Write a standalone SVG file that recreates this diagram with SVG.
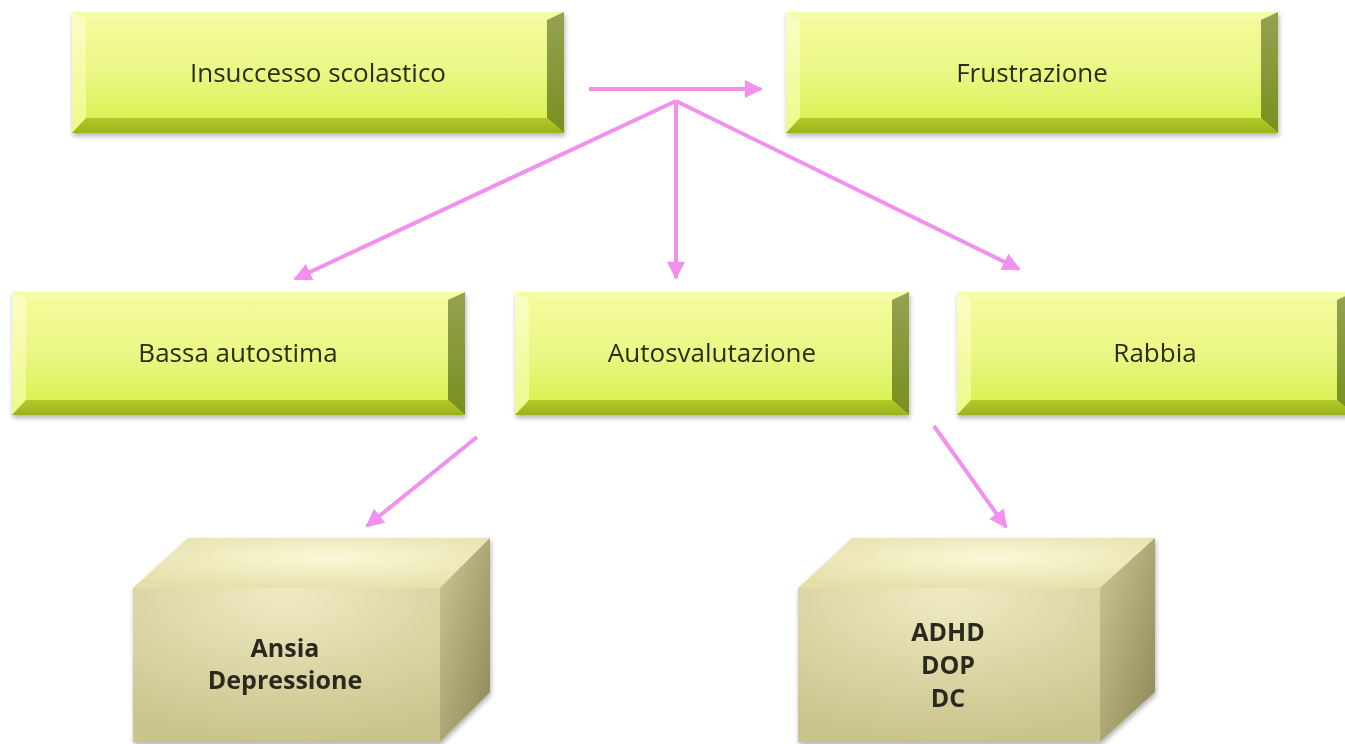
<svg xmlns="http://www.w3.org/2000/svg" width="1345" height="744" viewBox="0 0 1345 744">
<style>
.lbl{font-family:"Open Sans","Noto Sans","Liberation Sans",sans-serif;font-size:26px;fill:#2a2d14;text-anchor:middle}
.blbl{font-family:"Open Sans","Noto Sans","Liberation Sans",sans-serif;font-size:25px;font-weight:bold;fill:#2a2a1e;text-anchor:middle}
.face{fill:url(#gFace)}
.tb{fill:#f5fba6}
.lb{fill:url(#gLeft)}
.rb{fill:url(#gRight)}
.bb{fill:url(#gBot)}
.conn{stroke:#f290ef;stroke-width:4;fill:none}
.front{fill:url(#gFront)}
.top{fill:url(#gTop)}
.side{fill:url(#gSide)}
</style>
<defs>
<linearGradient id="gFace" x1="0" y1="0" x2="0" y2="1"><stop offset="0" stop-color="#f5fb9e"/><stop offset="0.5" stop-color="#eaf784"/><stop offset="1" stop-color="#d6ef48"/></linearGradient>
<linearGradient id="gLeft" x1="0" y1="0" x2="0" y2="1"><stop offset="0" stop-color="#fbfdc4"/><stop offset="1" stop-color="#eef98a"/></linearGradient>
<linearGradient id="gRight" x1="0" y1="0" x2="0" y2="1"><stop offset="0" stop-color="#97a152"/><stop offset="1" stop-color="#76901f"/></linearGradient>
<linearGradient id="gBot" x1="0" y1="0" x2="0" y2="1"><stop offset="0" stop-color="#b2c928"/><stop offset="1" stop-color="#9cb41a"/></linearGradient>
<radialGradient id="gFront" cx="0.5" cy="0.05" r="0.95"><stop offset="0" stop-color="#efeac2"/><stop offset="1" stop-color="#cac38c"/></radialGradient>
<radialGradient id="gTop" cx="0.55" cy="0.4" r="0.7"><stop offset="0" stop-color="#fbf8d6"/><stop offset="1" stop-color="#e4dea8"/></radialGradient>
<linearGradient id="gSide" x1="0" y1="0" x2="1" y2="1"><stop offset="0" stop-color="#cdc794"/><stop offset="1" stop-color="#8d8756"/></linearGradient>
<filter id="sh" x="-5%" y="-10%" width="110%" height="130%"><feDropShadow dx="1" dy="3" stdDeviation="2.5" flood-color="#000" flood-opacity="0.3"/></filter>
<marker id="ah" viewBox="0 0 10 10" refX="9" refY="5" markerWidth="5" markerHeight="4.5" markerUnits="strokeWidth" orient="auto"><path d="M0,0 L10,5 L0,10 z" fill="#f290ef"/></marker>
</defs>

<g id="insuccesso" filter="url(#sh)">
<rect class="face" x="72" y="12" width="492" height="121"/>
<polygon class="tb" points="72,12 564,12 547,20 86,20"/>
<polygon class="lb" points="72,12 86,20 86,118 72,133"/>
<polygon class="rb" points="564,12 564,133 547,118 547,20"/>
<polygon class="bb" points="72,133 86,118 547,118 564,133"/>
<text class="lbl" x="318" y="82">Insuccesso scolastico</text>
</g>

<g id="frustrazione" filter="url(#sh)">
<rect class="face" x="786" y="12" width="492" height="121"/>
<polygon class="tb" points="786,12 1278,12 1261,20 800,20"/>
<polygon class="lb" points="786,12 800,20 800,118 786,133"/>
<polygon class="rb" points="1278,12 1278,133 1261,118 1261,20"/>
<polygon class="bb" points="786,133 800,118 1261,118 1278,133"/>
<text class="lbl" x="1032" y="82">Frustrazione</text>
</g>

<g id="bassa" filter="url(#sh)">
<rect class="face" x="12" y="292" width="453" height="123"/>
<polygon class="tb" points="12,292 465,292 448,300 26,300"/>
<polygon class="lb" points="12,292 26,300 26,400 12,415"/>
<polygon class="rb" points="465,292 465,415 448,400 448,300"/>
<polygon class="bb" points="12,415 26,400 448,400 465,415"/>
<text class="lbl" x="238" y="362">Bassa autostima</text>
</g>

<g id="autosvalutazione" filter="url(#sh)">
<rect class="face" x="515" y="292" width="394" height="123"/>
<polygon class="tb" points="515,292 909,292 892,300 529,300"/>
<polygon class="lb" points="515,292 529,300 529,400 515,415"/>
<polygon class="rb" points="909,292 909,415 892,400 892,300"/>
<polygon class="bb" points="515,415 529,400 892,400 909,415"/>
<text class="lbl" x="712" y="362">Autosvalutazione</text>
</g>

<g id="rabbia" filter="url(#sh)">
<rect class="face" x="957" y="292" width="397" height="123"/>
<polygon class="tb" points="957,292 1354,292 1337,300 971,300"/>
<polygon class="lb" points="957,292 971,300 971,400 957,415"/>
<polygon class="rb" points="1354,292 1354,415 1337,400 1337,300"/>
<polygon class="bb" points="957,415 971,400 1337,400 1354,415"/>
<text class="lbl" x="1155" y="362">Rabbia</text>
</g>

<g id="ansia" filter="url(#sh)">
<polygon class="top" points="133,588 188,538 490,538 440,588"/>
<polygon class="side" points="440,588 490,538 490,692 440,742"/>
<rect class="front" x="133" y="588" width="307" height="154"/>
<text class="blbl" x="285" y="657">Ansia</text>
<text class="blbl" x="285" y="689">Depressione</text>
</g>

<g id="adhd" filter="url(#sh)">
<polygon class="top" points="798,588 852,538 1155,538 1100,588"/>
<polygon class="side" points="1100,588 1155,538 1155,692 1100,742"/>
<rect class="front" x="798" y="588" width="302" height="154"/>
<text class="blbl" x="948" y="641">ADHD</text>
<text class="blbl" x="948" y="674">DOP</text>
<text class="blbl" x="948" y="707">DC</text>
</g>

<g id="connectors">
<line class="conn" x1="589" y1="89" x2="761" y2="89" marker-end="url(#ah)"/>
<line class="conn" x1="676" y1="101" x2="295" y2="279" marker-end="url(#ah)"/>
<line class="conn" x1="676" y1="101" x2="676" y2="278" marker-end="url(#ah)"/>
<line class="conn" x1="676" y1="101" x2="1019" y2="269" marker-end="url(#ah)"/>
<line class="conn" x1="477" y1="437" x2="367" y2="526" marker-end="url(#ah)"/>
<line class="conn" x1="934" y1="426" x2="1006" y2="527" marker-end="url(#ah)"/>
</g>
</svg>
